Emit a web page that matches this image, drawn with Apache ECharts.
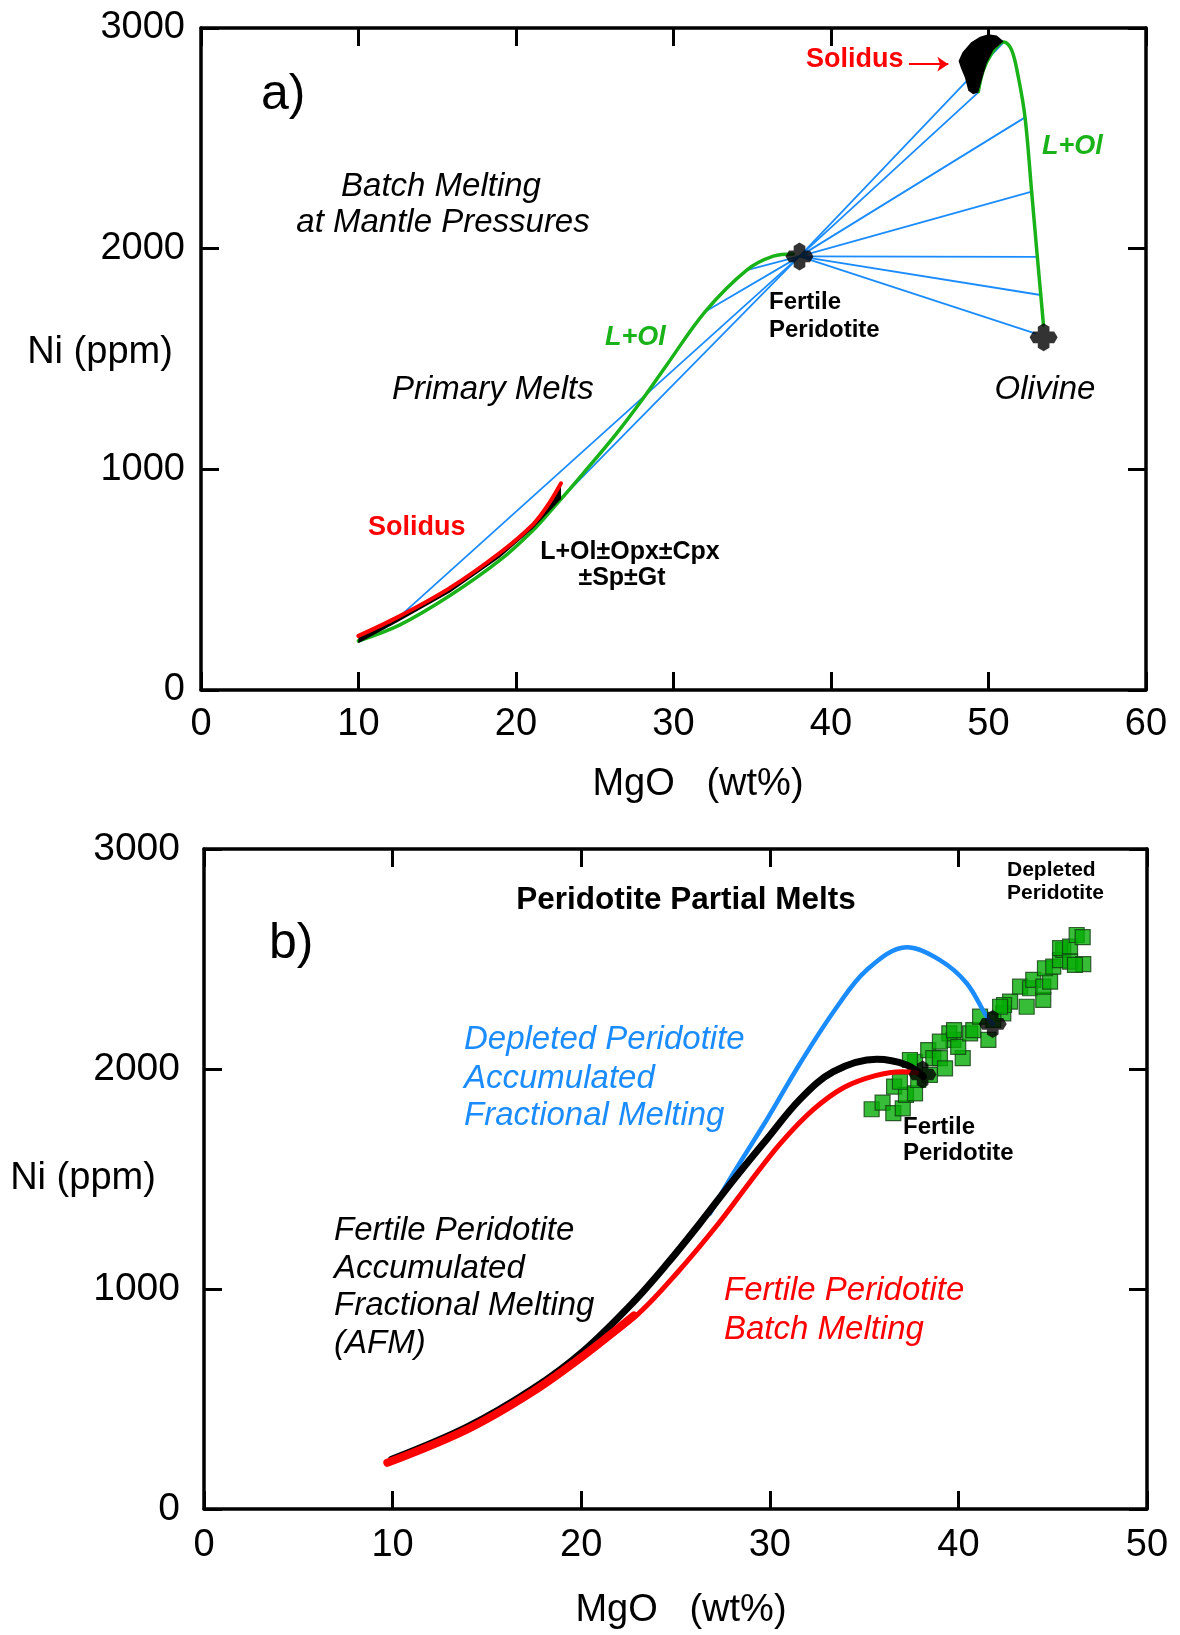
<!DOCTYPE html>
<html>
<head>
<meta charset="utf-8">
<script src="https://cdn.jsdelivr.net/npm/echarts@6/dist/echarts.min.js"></script>
<style>
html,body{margin:0;padding:0;background:#fff;}
#chart{width:1180px;height:1635px;}
</style>
</head>
<body>
<div id="chart"></div>
<script>
// ---------- Panel a data ----------
const xTicksA = [0, 10, 20, 30, 40, 50, 60];
const yTicks = [0, 1000, 2000, 3000];
const fertileA = [38.0, 1965];
const olivineA = [53.5, 1598];
const tieEndsLeftA = [[12.0, 294], [22.16, 816], [32.0, 1714], [34.65, 1903]];
const tieEndsRightA = [[50.94, 2934], [49.3, 2705], [52.32, 2595], [52.74, 2258], [53.1, 1963], [53.31, 1790], [52.95, 1616]];
const liquidLowA = [[9.99, 222], [12.63, 295], [15.81, 428], [18.98, 588], [21.1, 725], [22.16, 808], [24.27, 982], [26.39, 1163], [28.08, 1322], [29.57, 1473], [32.0, 1714], [34.65, 1903], [36.34, 1966], [37.6, 1976]];
const liquidHighA = [[49.35, 2711], [49.67, 2809], [50.2, 2885], [50.73, 2930], [50.98, 2937], [51.47, 2900], [51.89, 2779], [52.32, 2595], [52.74, 2258], [53.1, 1963], [53.32, 1790], [53.49, 1654]];
const solidusLowA = [[9.99, 245], [12.43, 328], [15.81, 463], [18.98, 622], [21.1, 752], [22.0, 835], [22.86, 937]];
const wedgeLowerA = [[22.86, 866], [21.1, 733], [18.98, 600], [15.81, 442], [12.43, 306], [9.99, 212]];
const solidusCapA = [[48.1, 2850], [48.35, 2890], [48.9, 2935], [49.46, 2960], [49.99, 2972], [50.52, 2966], [50.96, 2940], [50.31, 2900], [49.89, 2840], [49.57, 2764], [49.35, 2708], [49.03, 2700], [48.72, 2716], [48.5, 2776], [48.26, 2817]];
const arrowA = [[44.95, 2836], [47.45, 2836]];

// ---------- Panel b data ----------
const xTicksB = [0, 10, 20, 30, 40, 50];
const fertileB = [38.1, 1975];
const depletedB = [41.82, 2205];
const depletedAFM = [[26.83, 1344], [28.07, 1526], [29.83, 1768], [31.6, 2025], [33.5, 2275], [35.14, 2450], [37.26, 2553], [39.02, 2495], [40.44, 2390], [41.5, 2238], [41.82, 2205]];
const fertileAFM = [[9.95, 226], [13.93, 372], [17.46, 548], [20.11, 718], [22.76, 940], [24.53, 1112], [26.3, 1299], [28.07, 1495], [29.83, 1680], [31.6, 1862], [33.37, 1988], [35.67, 2044], [37.26, 2018], [38.14, 1965]];
const fertileBatch = [[9.72, 208], [13.93, 359], [17.46, 533], [20.29, 708], [23.0, 885], [25.1, 1075], [27.3, 1300], [28.98, 1490], [30.6, 1665], [32.3, 1815], [33.95, 1917], [35.6, 1970], [37.0, 1988], [37.79, 1983]];
const fertileBatchLow = [[9.72, 210], [13.93, 361], [17.46, 535], [20.29, 708], [22.8, 880]];
const olivineData = [[35.40, 1817], [35.98, 1847], [36.55, 1799], [36.59, 1920], [37.05, 1821], [37.22, 1882], [37.70, 1889], [37.87, 1950], [37.70, 2033], [38.40, 2086], [38.67, 2049], [39.02, 2049], [38.49, 1973], [39.29, 2003], [39.73, 2132], [39.52, 2162], [40.23, 2049], [39.99, 2101], [40.62, 2162], [40.79, 2177], [41.15, 2238], [41.59, 2132], [42.38, 2253], [42.74, 2306], [42.42, 2291], [43.27, 2374], [43.62, 2283], [43.80, 2367], [43.97, 2405], [44.50, 2314], [44.50, 2374], [44.86, 2397], [44.59, 2458], [45.03, 2465], [45.39, 2495], [45.56, 2541], [45.39, 2549], [45.92, 2556], [45.92, 2488], [46.27, 2609], [46.59, 2599], [46.62, 2477], [46.18, 2473], [36.90, 1942], [37.43, 2041], [39.02, 2124], [39.77, 2177], [41.85, 2223], [42.21, 2283]];

const FONT = 'Liberation Sans, Arial, sans-serif';
const BLUE = '#1a8cff';
const GREEN = '#19b319';
const RED = '#ff0000';
const STAR = 'path://M7,3 L12,0 L17,3 L17,7 L21,7 L24,12 L21,17 L17,17 L17,21 L12,24 L7,21 L7,17 L3,17 L0,12 L3,7 L7,7 Z';

function mkX(gridIndex, max, pos, showLabel, margin) {
  return {
    type: 'value', gridIndex: gridIndex, min: 0, max: max, interval: 10, position: pos,
    axisLine: {show: true, onZero: false, lineStyle: {color: '#000', width: 3.5}},
    axisTick: {show: true, inside: true, length: 18, lineStyle: {color: '#000', width: 3}},
    axisLabel: {show: showLabel, fontSize: 38, color: '#000', fontFamily: FONT, margin: margin,
      formatter: function (v) { return String(v); }},
    splitLine: {show: false}
  };
}
function mkY(gridIndex, pos, showLabel, margin, fs) {
  return {
    type: 'value', gridIndex: gridIndex, min: 0, max: 3000, interval: 1000, position: pos,
    axisLine: {show: true, onZero: false, lineStyle: {color: '#000', width: 3.5}},
    axisTick: {show: true, inside: true, length: 18, lineStyle: {color: '#000', width: 3}},
    axisLabel: {show: showLabel, fontSize: fs, color: '#000', fontFamily: FONT, margin: margin,
      formatter: function (v) { return String(v); }},
    splitLine: {show: false}
  };
}

function polySeries(xi, yi, pts, z) {
  return {
    type: 'custom', xAxisIndex: xi, yAxisIndex: yi, data: [0], silent: true, z: z, clip: false,
    renderItem: function (params, api) {
      return {type: 'polygon', shape: {points: pts.map(function (p) { return api.coord(p); })}, style: {fill: '#000'}};
    }
  };
}
function lineSeries(xi, yi, data, color, width, z, smooth) {
  return {
    type: 'line', xAxisIndex: xi, yAxisIndex: yi, data: data, showSymbol: false, symbol: 'none',
    smooth: smooth, lineStyle: {color: color, width: width, cap: 'round'}, z: z, silent: true
  };
}

const series = [];
// tie lines panel a
tieEndsLeftA.concat(tieEndsRightA).forEach(function (e) {
  series.push(lineSeries(0, 0, [fertileA, e], BLUE, 1.8, 2, false));
});
series.push(lineSeries(0, 0, liquidLowA, GREEN, 3.5, 3, 0.35));
series.push(lineSeries(0, 0, liquidHighA, GREEN, 3.5, 3, 0.35));
series.push(polySeries(0, 0, solidusLowA.concat(wedgeLowerA), 4));
series.push(lineSeries(0, 0, solidusLowA, RED, 4, 5, 0.3));
series.push(polySeries(0, 0, solidusCapA, 4));
series.push({
  type: 'lines', coordinateSystem: 'cartesian2d', xAxisIndex: 0, yAxisIndex: 0, z: 6, silent: true,
  symbol: ['none', 'arrow'], symbolSize: 11,
  lineStyle: {color: RED, width: 2, opacity: 1},
  data: [{coords: arrowA}]
});
series.push({
  type: 'scatter', xAxisIndex: 0, yAxisIndex: 0, data: [fertileA, olivineA], symbol: STAR, symbolSize: 28,
  itemStyle: {color: '#000'}, z: 10, silent: true
});
// panel b
series.push({
  type: 'scatter', xAxisIndex: 2, yAxisIndex: 2, data: olivineData, symbol: 'rect', symbolSize: 15,
  itemStyle: {color: '#05ad05', borderColor: '#123d12', borderWidth: 1.2}, z: 2, silent: true
});
series.push(lineSeries(2, 2, depletedAFM, BLUE, 4.5, 3, 0.35));
series.push(lineSeries(2, 2, fertileAFM, '#000', 7, 4, 0.35));
series.push(lineSeries(2, 2, fertileBatch, RED, 5, 5, 0.35));
series.push(lineSeries(2, 2, fertileBatchLow, RED, 8, 5, 0.35));
series.push({
  type: 'scatter', xAxisIndex: 2, yAxisIndex: 2, data: [fertileB, depletedB], symbol: STAR, symbolSize: 28,
  itemStyle: {color: '#000'}, z: 10, silent: true
});

function txt(x, y, text, font, color, align) {
  return {type: 'text', x: x, y: y, silent: true, z: 50,
    style: {text: text, font: font, fill: color, textAlign: align || 'left', textVerticalAlign: 'middle'}};
}
const I33 = 'italic 33px ' + FONT;
const B24 = 'bold 24px ' + FONT;
const B27 = 'bold 27px ' + FONT;
const BI27 = 'italic bold 27px ' + FONT;
const R38 = '38px ' + FONT;

const graphics = [
  // panel a
  txt(261, 95, 'a)', '50px ' + FONT, '#000'),
  txt(441, 187, 'Batch Melting', I33, '#000', 'center'),
  txt(443, 223, 'at Mantle Pressures', I33, '#000', 'center'),
  txt(392, 390, 'Primary Melts', I33, '#000'),
  txt(1045, 390, 'Olivine', I33, '#000', 'center'),
  txt(1042, 147, 'L+Ol', BI27, GREEN),
  txt(605, 338, 'L+Ol', BI27, GREEN),
  txt(806, 60, 'Solidus', B27, RED),
  txt(368, 528, 'Solidus', B27, RED),
  txt(769, 302, 'Fertile', B24, '#000'),
  txt(769, 330, 'Peridotite', B24, '#000'),
  txt(630, 552, 'L+Ol±Opx±Cpx', 'bold 25px ' + FONT, '#000', 'center'),
  txt(622, 578, '±Sp±Gt', 'bold 25px ' + FONT, '#000', 'center'),
  txt(100, 353, 'Ni (ppm)', R38, '#000', 'center'),
  txt(698, 785, 'MgO   (wt%)', R38, '#000', 'center'),
  // panel b
  txt(269, 944, 'b)', '50px ' + FONT, '#000'),
  txt(686, 900, 'Peridotite Partial Melts', 'bold 31.5px ' + FONT, '#000', 'center'),
  txt(1007, 870, 'Depleted', 'bold 21px ' + FONT, '#000'),
  txt(1007, 893, 'Peridotite', 'bold 21px ' + FONT, '#000'),
  txt(903, 1127, 'Fertile', B24, '#000'),
  txt(903, 1153, 'Peridotite', B24, '#000'),
  txt(464, 1040, 'Depleted Peridotite', I33, BLUE),
  txt(464, 1079, 'Accumulated', I33, BLUE),
  txt(464, 1116, 'Fractional Melting', I33, BLUE),
  txt(334, 1231, 'Fertile Peridotite', I33, '#000'),
  txt(334, 1269, 'Accumulated', I33, '#000'),
  txt(334, 1306, 'Fractional Melting', I33, '#000'),
  txt(334, 1344, '(AFM)', I33, '#000'),
  txt(724, 1291, 'Fertile Peridotite', I33, RED),
  txt(724, 1330, 'Batch Melting', I33, RED),
  txt(83, 1179, 'Ni (ppm)', R38, '#000', 'center'),
  txt(681, 1611, 'MgO   (wt%)', R38, '#000', 'center')
];

const chart = echarts.init(document.getElementById('chart'), null, {renderer: 'canvas'});
chart.setOption({
  animation: false,
  backgroundColor: '#fff',
  grid: [
    {left: 201, top: 28, width: 945, height: 662, containLabel: false},
    {left: 204, top: 849, width: 943, height: 660, containLabel: false}
  ],
  xAxis: [
    mkX(0, 60, 'bottom', true, 16),
    mkX(0, 60, 'top', false, 8),
    mkX(1, 50, 'bottom', true, 18),
    mkX(1, 50, 'top', false, 8)
  ],
  yAxis: [
    mkY(0, 'left', true, 16, 38),
    mkY(0, 'right', false, 8, 38),
    mkY(1, 'left', true, 24, 39),
    mkY(1, 'right', false, 8, 39)
  ],
  series: series,
  graphic: graphics
});
</script>
</body>
</html>
